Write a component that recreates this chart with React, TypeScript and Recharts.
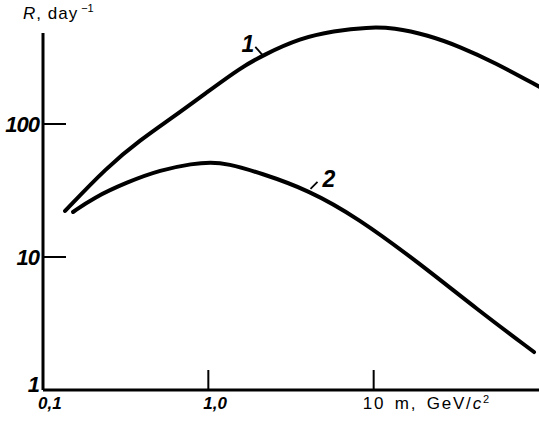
import React from "react";
import { LineChart, Line, XAxis, YAxis, ReferenceLine, ReferenceDot } from "recharts";

// rate R (day^-1) vs mass m (GeV/c^2), log-log
const curve1Mass = [0.136, 0.244, 0.387, 0.614, 0.986, 1.56, 2.15, 3.61, 5.72, 9.2, 13.2, 21.2, 33.7, 53.3, 101];
const curve1Rate = [22.2, 47.5, 75.8, 113, 174, 264, 330, 443, 500, 535, 530, 467, 379, 292, 190];

const curve2Mass = [0.152, 0.201, 0.323, 0.512, 0.811, 1.03, 1.3, 2.07, 4.03, 8.0, 18.5, 42.7, 93.3];
const curve2Rate = [21.8, 27.8, 36.6, 45.1, 50.5, 51.5, 50.5, 42.8, 31.9, 19.7, 9.17, 4.0, 1.93];

const xTicks = [0.1, 1, 10];
const xTickLabels = ["0,1", "1,0", "10"];
const yTicks = [1, 10, 100];
const yTickLabels = ["1", "10", "100"];

const curve1 = curve1Mass.map((x, i) => ({ x, r: curve1Rate[i] }));
const curve2 = curve2Mass.map((x, i) => ({ x, r: curve2Rate[i] }));

const FONT = "'Liberation Sans', Arial, sans-serif";
const numStyle = { fontFamily: FONT, fontWeight: 700, fontStyle: "italic" as const };

function XTick(props: any) {
  const { x, y, index } = props;
  const label = xTickLabels[index];
  return (
    <g>
      {index > 0 && <line x1={x} x2={x} y1={y} y2={y - 20} stroke="#000" strokeWidth={2} />}
      {index < 2 ? (
        <text x={x - 5} y={y + 19} textAnchor="start" fontSize={17} fill="#000" style={numStyle}>
          {label}
        </text>
      ) : (
        <text x={x - 11} y={y + 19} textAnchor="start" fontSize={17} fill="#000"
          style={{ fontFamily: FONT, letterSpacing: 1.8, wordSpacing: 3 }}>
          10 m, GeV/<tspan fontStyle="italic">c</tspan>
          <tspan fontSize={11} dy={-6}>2</tspan>
        </text>
      )}
    </g>
  );
}

function YTick(props: any) {
  const { x, y, index } = props;
  return (
    <g>
      {index > 0 && <line x1={x} x2={x + 23} y1={y} y2={y} stroke="#000" strokeWidth={2} />}
      <text x={x - 4} y={y + (index === 0 ? 2 : 8)} textAnchor="end" fontSize={22} fill="#000"
        style={{ ...numStyle, letterSpacing: -1 }}>
        {yTickLabels[index]}
      </text>
    </g>
  );
}

const curveLabel = (text: string, dx: number, dy: number, tx: number, anchor: "start" | "end") => (p: any) => (
  <g>
    <line x1={p.cx} y1={p.cy} x2={p.cx + dx} y2={p.cy + dy} stroke="#000" strokeWidth={1.8} />
    <text x={p.cx + tx} y={p.cy + dy + 5} textAnchor={anchor} fontSize={23} fill="#000" style={numStyle}>
      {text}
    </text>
  </g>
);

export default function App() {
  return (
    <div style={{ position: "absolute", left: 0, top: 0, width: 539, height: 425, background: "#fff" }}>
      <LineChart width={539} height={425} margin={{ top: 0, right: 0, bottom: 0, left: 0 }}>
        <XAxis
          dataKey="x"
          type="number"
          scale="log"
          domain={[0.1, 100]}
          ticks={xTicks}
          allowDataOverflow
          height={35}
          axisLine={false}
          tickLine={false}
          tickSize={0}
          tickMargin={0}
          tick={<XTick />}
          interval={0}
        />
        <YAxis
          type="number"
          scale="log"
          domain={[1, 856]}
          ticks={yTicks}
          allowDataOverflow
          width={43}
          axisLine={false}
          tickLine={false}
          tickSize={0}
          tickMargin={0}
          tick={<YTick />}
          interval={0}
        />
        <ReferenceLine segment={[{ x: 0.1, y: 1 }, { x: 0.1, y: 483 }]} stroke="#000" strokeWidth={3} />
        <ReferenceLine segment={[{ x: 0.1, y: 1 }, { x: 100, y: 1 }]} stroke="#000" strokeWidth={3} />
        <Line data={curve1} dataKey="r" type="basis" stroke="#000" strokeWidth={4} dot={false}
          strokeLinecap="round" isAnimationActive={false} />
        <Line data={curve2} dataKey="r" type="basis" stroke="#000" strokeWidth={4} dot={false}
          strokeLinecap="round" isAnimationActive={false} />
        <ReferenceDot x={2.15} y={325} r={0} shape={curveLabel("1", -8, -9, -9, "end")} />
        <ReferenceDot x={4.15} y={32.5} r={0} shape={curveLabel("2", 7, -7, 12, "start")} />
      </LineChart>
      <div style={{ position: "absolute", left: 23, top: 2, fontFamily: FONT, fontSize: 17, letterSpacing: 1, whiteSpace: "nowrap" }}>
        <i>R</i>, day<sup style={{ fontSize: 11, letterSpacing: 0, marginLeft: 3 }}>−1</sup>
      </div>
    </div>
  );
}
